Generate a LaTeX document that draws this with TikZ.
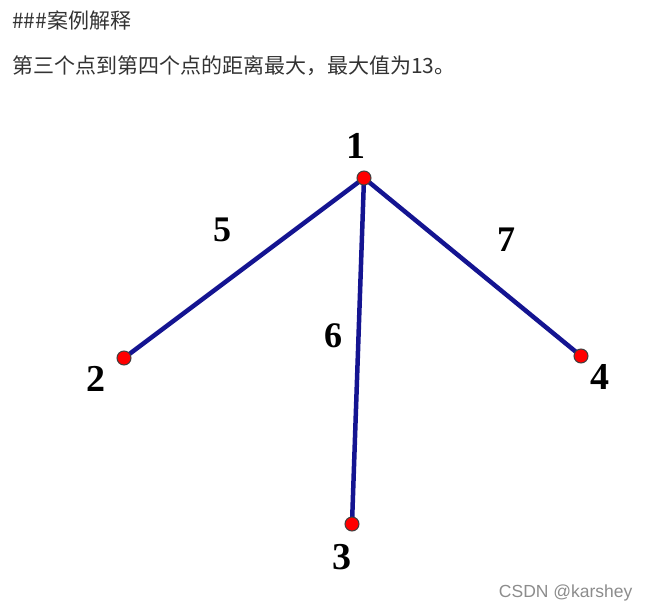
\documentclass[tikz,border=0pt]{standalone}
\usepackage{fontspec}
\setmainfont{Liberation Serif}
\newfontfamily\cjkfont{Noto Sans CJK SC}
\newfontfamily\wmfont{Liberation Sans}
\usetikzlibrary{backgrounds}
\definecolor{edgeblue}{RGB}{20,20,145}
\definecolor{txtgray}{RGB}{51,51,51}
\tikzset{
  vtx/.style={circle,draw=black!75,fill=red,inner sep=0pt,minimum size=14pt,line width=1pt},
  vlbl/.style={font=\fontsize{38}{38}\selectfont\bfseries},
  elbl/.style={font=\fontsize{36}{36}\selectfont\bfseries},
  link/.style={draw=edgeblue,line width=4.5pt},
  cjktxt/.style={anchor=west,text=txtgray,inner sep=0pt,font=\cjkfont\fontsize{21}{21}\selectfont},
}
\begin{document}
\begin{tikzpicture}[x=1pt,y=-1pt]
        \useasboundingbox (0,0) rectangle (651,613);
        % texts on top
        \node[cjktxt] (title) at (12,20) {\#\#\#案例解释};
        \node[cjktxt] (answer) at (12,66) {第三个点到第四个点的距离最大，最大值为13。};
        % points
        \node[vtx] (p1) at (364,178) {};
        \node[vtx] (p2) at (124,358) {};
        \node[vtx] (p3) at (352,524) {};
        \node[vtx] (p4) at (581,356) {};
        \node[vlbl] (l1) at (356,146) {1};
        \node[vlbl] (l2) at (96,379) {2};
        \node[vlbl] (l3) at (342,557) {3};
        \node[vlbl] (l4) at (600,377) {4};
        % edges
        \begin{pgfonlayer}{background}
            \draw[link] (p1.center) -- (p2.center);
            \draw[link] (p1.center) -- (p3.center);
            \draw[link] (p1.center) -- (p4.center);
        \end{pgfonlayer}
        \node[elbl] (w12) at (222,230) {5};
        \node[elbl] (w13) at (333,336) {6};
        \node[elbl] (w14) at (506,240) {7};
        %\node at (0,0) {};
        \node[anchor=east,text=black!45,font=\wmfont\fontsize{17.5}{17.5}\selectfont] (mark) at (636,593) {CSDN @karshey};
\end{tikzpicture}
\end{document}
